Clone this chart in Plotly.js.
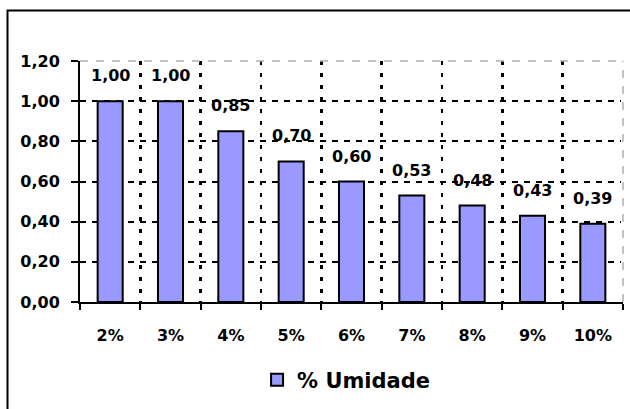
<!DOCTYPE html>
<html>
<head>
<meta charset="utf-8">
<script src="https://cdn.plot.ly/plotly-3.0.1.min.js"></script>
<style>html,body{margin:0;padding:0;background:#fff;}#chart{width:630px;height:409px;}</style>
</head>
<body>
<div id="chart"></div>
<script>
const categories = ['2%', '3%', '4%', '5%', '6%', '7%', '8%', '9%', '10%'];
const umidade = [1.00, 1.00, 0.85, 0.70, 0.60, 0.53, 0.48, 0.43, 0.39];
const seriesName = '% Umidade';
const yTickVals = [0, 0.2, 0.4, 0.6, 0.8, 1.0, 1.2];
const yTickText = ['0,00', '0,20', '0,40', '0,60', '0,80', '1,00', '1,20'];
const yGridVals = [0.2, 0.4, 0.6, 0.8, 1.0];

const FONT = {family: 'DejaVu Sans, sans-serif', size: 16, color: '#000', weight: 'bold'};

const trace = {
  type: 'bar',
  x: categories,
  y: umidade,
  name: seriesName,
  marker: {color: '#9999FF', line: {color: '#000', width: 2}},
  hoverinfo: 'none'
};

const annotations = categories.map((c, i) => ({
  x: c, y: umidade[i], xref: 'x', yref: 'y',
  text: umidade[i].toFixed(2).replace('.', ','),
  showarrow: false, yanchor: 'bottom', yshift: 14,
  font: FONT
}));

const layout = {
  width: 630, height: 409,
  margin: {l: 80, r: 7, t: 61, b: 107},
  paper_bgcolor: '#fff', plot_bgcolor: '#fff',
  font: FONT,
  bargap: 0.585,
  showlegend: true,
  legend: {orientation: 'h', x: 0.49, xanchor: 'center', y: -0.324, yanchor: 'middle',
           font: {family: 'DejaVu Sans, sans-serif', size: 21, color: '#000', weight: 'bold'}},
  xaxis: {
    type: 'category', tickson: 'boundaries',
    showline: true, linecolor: '#000', linewidth: 2,
    ticks: 'outside', ticklen: 6, tickwidth: 2, tickcolor: '#000',
    showgrid: true, gridcolor: '#000', gridwidth: 2.5, griddash: '4px,8px',
    ticklabelstandoff: 18,
    tickfont: FONT
  },
  yaxis: {
    range: [0, 1.2], tickvals: yTickVals, ticktext: yTickText,
    showline: true, linecolor: '#000', linewidth: 2,
    ticks: 'outside', ticklen: 7, tickwidth: 2, tickcolor: '#000',
    showgrid: false, zeroline: false,
    ticklabelstandoff: 8,
    tickfont: FONT,
    minor: {tickvals: yGridVals, showgrid: true, gridcolor: '#000', gridwidth: 2, griddash: '6px,6px', ticks: ''}
  },
  annotations: annotations,
  shapes: [
    {type: 'line', xref: 'paper', yref: 'paper', x0: 1, x1: 1, y0: 0.006, y1: 1,
     line: {color: '#fff', width: 4}, layer: 'above'},
    {type: 'line', xref: 'paper', yref: 'paper', x0: 1, x1: 1, y0: 0, y1: 1,
     line: {color: '#b0b0b0', width: 1.5, dash: '8px,8px'}, layer: 'above'},
    {type: 'line', xref: 'paper', yref: 'paper', x0: 0, x1: 1, y0: 1, y1: 1,
     line: {color: '#b0b0b0', width: 1.5, dash: '8px,8px'}, layer: 'above'},
    {type: 'rect', xref: 'paper', yref: 'paper', x0: -0.1335, x1: 1.2, y0: -0.6, y1: 1.2095,
     line: {color: '#000', width: 2}}
  ]
};

Plotly.newPlot('chart', [trace], layout, {staticPlot: true, displayModeBar: false});
</script>
</body>
</html>
